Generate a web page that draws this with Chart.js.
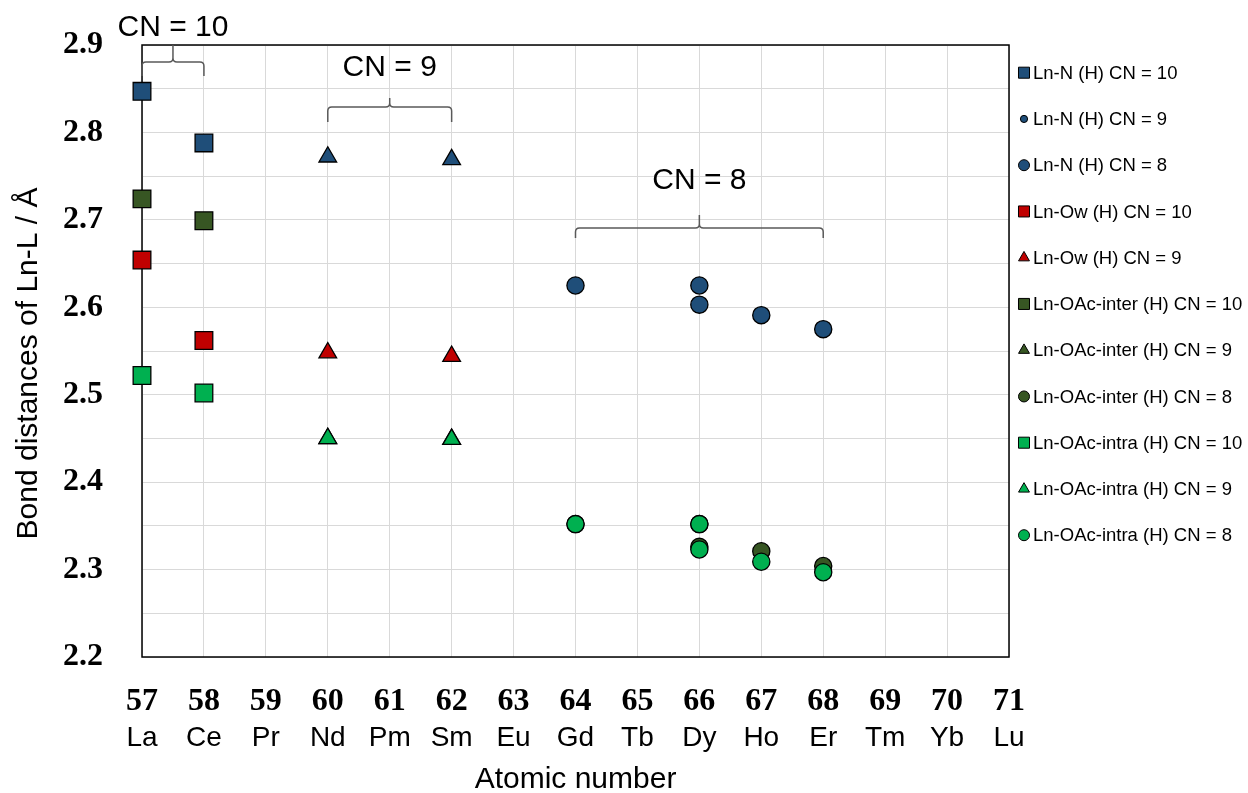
<!DOCTYPE html>
<html><head><meta charset="utf-8">
<script src="https://cdn.jsdelivr.net/npm/chart.js@4.4.0/dist/chart.umd.min.js"></script>
<style>html,body{margin:0;padding:0;background:#fff;overflow:hidden}</style>
</head><body>
<canvas id="c" width="1248" height="793"></canvas>
<script>
// ---- categories / ticks ----
const atomicNumbers = [57,58,59,60,61,62,63,64,65,66,67,68,69,70,71];
const elementSymbols = ['La','Ce','Pr','Nd','Pm','Sm','Eu','Gd','Tb','Dy','Ho','Er','Tm','Yb','Lu'];
const yLabelTicks = [2.2,2.3,2.4,2.5,2.6,2.7,2.8,2.9];

// ---- series (x = atomic number, y = bond distance / Å) ----
const lnN_CN10_x = [57,58];             const lnN_CN10_y = [2.847,2.788];
const lnN_CN9_x  = [60,62];             const lnN_CN9_y  = [2.772,2.769];
const lnN_CN8_x  = [64,66,66,67,68];    const lnN_CN8_y  = [2.625,2.625,2.603,2.591,2.575];
const lnOw_CN10_x = [57,58];            const lnOw_CN10_y = [2.654,2.562];
const lnOw_CN9_x  = [60,62];            const lnOw_CN9_y  = [2.548,2.544];
const inter_CN10_x = [57,58];           const inter_CN10_y = [2.724,2.699];
const inter_CN9_x  = [60,62];           const inter_CN9_y  = [2.450,2.449];
const inter_CN8_x  = [64,66,66,67,68];  const inter_CN8_y  = [2.352,2.352,2.326,2.321,2.304];
const intra_CN10_x = [57,58];           const intra_CN10_y = [2.522,2.502];
const intra_CN9_x  = [60,62];           const intra_CN9_y  = [2.450,2.449];
const intra_CN8_x  = [64,66,66,67,68];  const intra_CN8_y  = [2.352,2.352,2.323,2.309,2.297];

// ---- annotation groups ----
const cnLabels = ['CN = 10','CN = 9','CN = 8'];
const cnFrom = [57,60,64];
const cnTo   = [58,62,68];

// ---- styling ----
const BLUE='#1F4E79', DKGREEN='#375623', RED='#C00000', GREEN='#00B050';
const pts = (xs,ys)=>xs.map((x,i)=>({x:x,y:ys[i]}));

function ds(label, xs, ys, color, style, radius, order, legStyle, legR){
  return {label:label, data:pts(xs,ys), backgroundColor:color, borderColor:'#000', borderWidth:1.3,
    pointStyle:style, pointRadius:radius, pointHoverRadius:radius, order:order, clip:false,
    showLine:false, legendStyle:legStyle||style, legendRadius:legR};
}
const datasets = [
  ds('Ln-N (H) CN = 10', lnN_CN10_x, lnN_CN10_y, BLUE, 'rect', 12.5, 2, 'rect', 7.8),
  ds('Ln-N (H) CN = 9', lnN_CN9_x, lnN_CN9_y, BLUE, 'triangle', 10.2, 2, 'circle', 3.6),
  ds('Ln-N (H) CN = 8', lnN_CN8_x, lnN_CN8_y, BLUE, 'circle', 8.6, 2, 'circle', 5.5),
  ds('Ln-Ow (H) CN = 10', lnOw_CN10_x, lnOw_CN10_y, RED, 'rect', 12.5, 2, 'rect', 7.8),
  ds('Ln-Ow (H) CN = 9', lnOw_CN9_x, lnOw_CN9_y, RED, 'triangle', 10.2, 2, 'triangle', 6.3),
  ds('Ln-OAc-inter (H) CN = 10', inter_CN10_x, inter_CN10_y, DKGREEN, 'rect', 12.5, 1, 'rect', 7.8),
  ds('Ln-OAc-inter (H) CN = 9', inter_CN9_x, inter_CN9_y, DKGREEN, 'triangle', 10.2, 1, 'triangle', 6.3),
  ds('Ln-OAc-inter (H) CN = 8', inter_CN8_x, inter_CN8_y, DKGREEN, 'circle', 8.6, 1, 'circle', 5.5),
  ds('Ln-OAc-intra (H) CN = 10', intra_CN10_x, intra_CN10_y, GREEN, 'rect', 12.5, 0, 'rect', 7.8),
  ds('Ln-OAc-intra (H) CN = 9', intra_CN9_x, intra_CN9_y, GREEN, 'triangle', 10.2, 0, 'triangle', 6.3),
  ds('Ln-OAc-intra (H) CN = 8', intra_CN8_x, intra_CN8_y, GREEN, 'circle', 8.6, 0, 'circle', 5.5)
];

// annotation placement (in data units)
const braceLayout = [
  {line:2.8806, end:2.8645, tip:2.9000, textY:2.9194},
  {line:2.8291, end:2.8119, tip:2.8394, textY:2.8737},
  {line:2.6907, end:2.6793, tip:2.7056, textY:2.7444}
];

const framePlugin = {
  id:'frame',
  beforeDatasetsDraw(chart){
    const a=chart.chartArea, ctx=chart.ctx;
    ctx.save(); ctx.strokeStyle='#000'; ctx.lineWidth=1.5;
    ctx.strokeRect(a.left, a.top, a.right-a.left, a.bottom-a.top);
    ctx.restore();
  }
};

function drawMarker(ctx, style, r, x, y){
  if (Chart.helpers && Chart.helpers.drawPoint){
    Chart.helpers.drawPoint(ctx, {pointStyle:style, radius:r, rotation:0, borderWidth:1}, x, y);
    return;
  }
  ctx.beginPath();
  if (style==='rect'){ const s=r*Math.SQRT1_2; ctx.rect(x-s,y-s,2*s,2*s); }
  else if (style==='triangle'){ ctx.moveTo(x,y-r); ctx.lineTo(x+r*0.866,y+r/2); ctx.lineTo(x-r*0.866,y+r/2); ctx.closePath(); }
  else { ctx.arc(x,y,r,0,Math.PI*2); }
  ctx.fill(); ctx.stroke();
}

const legendPlugin = {
  id:'sideLegend',
  afterDraw(chart){
    const ctx=chart.ctx;
    ctx.save();
    ctx.font='18.5px "Liberation Sans", Arial, sans-serif';
    ctx.textBaseline='middle'; ctx.textAlign='left';
    chart.data.datasets.forEach((d,i)=>{
      const y = 72.7 + 46.25*i;
      ctx.fillStyle=d.backgroundColor; ctx.strokeStyle='#000'; ctx.lineWidth=1;
      drawMarker(ctx, d.legendStyle, d.legendRadius, 1024, y);
      ctx.fillStyle='#000';
      ctx.fillText(d.label, 1033, y+1);
    });
    ctx.restore();
  }
};

function drawBrace(ctx, x1, x2, yLine, yEnd, yTip){
  const xm=(x1+x2)/2, c=4;
  ctx.beginPath();
  ctx.moveTo(x1, yEnd);
  ctx.lineTo(x1, yLine + c);
  ctx.quadraticCurveTo(x1, yLine, x1 + c, yLine);
  ctx.lineTo(xm - c, yLine);
  ctx.quadraticCurveTo(xm, yLine, xm, yLine - c);
  ctx.lineTo(xm, yTip);
  ctx.moveTo(xm, yLine - c);
  ctx.quadraticCurveTo(xm, yLine, xm + c, yLine);
  ctx.lineTo(x2 - c, yLine);
  ctx.quadraticCurveTo(x2, yLine, x2, yLine + c);
  ctx.lineTo(x2, yEnd);
  ctx.stroke();
}

const bracePlugin = {
  id:'braces',
  afterDraw(chart){
    const ctx=chart.ctx, xs=chart.scales.x, ys=chart.scales.y;
    ctx.save();
    cnLabels.forEach((lab,i)=>{
      const L=braceLayout[i];
      const x1=xs.getPixelForValue(cnFrom[i]), x2=xs.getPixelForValue(cnTo[i]);
      ctx.strokeStyle='#595959'; ctx.lineWidth=1.5;
      drawBrace(ctx, x1, x2, ys.getPixelForValue(L.line), ys.getPixelForValue(L.end), ys.getPixelForValue(L.tip));
      ctx.fillStyle='#000'; ctx.font='30px "Liberation Sans", Arial, sans-serif';
      ctx.textAlign='center'; ctx.textBaseline='middle';
      ctx.fillText(lab, (x1+x2)/2, ys.getPixelForValue(L.textY));
    });
    ctx.restore();
  }
};

new Chart(document.getElementById('c'), {
  type:'scatter',
  data:{datasets:datasets},
  plugins:[framePlugin, legendPlugin, bracePlugin],
  options:{
    responsive:false, animation:false, devicePixelRatio:1,
    layout:{padding:{top:45, right:239, bottom:0, left:0}},
    plugins:{legend:{display:false}, tooltip:{enabled:false}},
    scales:{
      x:{type:'linear', position:'bottom', weight:0, min:57, max:71,
        grid:{color:'#d9d9d9', lineWidth:1, drawTicks:false}, border:{display:false},
        ticks:{stepSize:1, autoSkip:false, maxRotation:0, padding:29, color:'#000',
          font:{family:'"Liberation Serif", "Times New Roman", serif', weight:'bold', size:32, lineHeight:1},
          callback:(v)=>atomicNumbers.includes(v)?String(v):''},
        afterFit:(s)=>{s.height=62;}
      },
      x2:{type:'linear', axis:'x', position:'bottom', weight:1, min:57, max:71,
        grid:{display:false, drawTicks:false}, border:{display:false},
        ticks:{stepSize:1, autoSkip:false, maxRotation:0, padding:5, color:'#000',
          font:{family:'"Liberation Sans", Arial, sans-serif', size:28, lineHeight:1},
          callback:(v)=>{const k=atomicNumbers.indexOf(v); return k>=0?elementSymbols[k]:'';}},
        title:{display:true, text:'Atomic number', color:'#000', padding:{top:0,bottom:0},
          font:{family:'"Liberation Sans", Arial, sans-serif', size:30, lineHeight:0.9}},
        afterFit:(s)=>{s.height=74;}
      },
      y:{type:'linear', position:'left', min:2.2, max:2.9,
        grid:{color:'#d9d9d9', lineWidth:1, drawTicks:true, tickLength:36, tickColor:'rgba(0,0,0,0)'}, border:{display:false},
        ticks:{stepSize:0.05, padding:3, color:'#000', autoSkip:false,
          font:{family:'"Liberation Serif", "Times New Roman", serif', weight:'bold', size:32, lineHeight:1},
          callback:(v)=>yLabelTicks.some(t=>Math.abs(t-v)<1e-6)?v.toFixed(1):''},
        title:{display:true, text:'Bond distances of Ln-L / Å\u00A0\u00A0\u00A0', color:'#000', padding:{top:14,bottom:0},
          font:{family:'"Liberation Sans", Arial, sans-serif', size:30, lineHeight:1}},
        afterFit:(s)=>{s.width=142;}
      }
    }
  }
});
</script>
</body></html>
